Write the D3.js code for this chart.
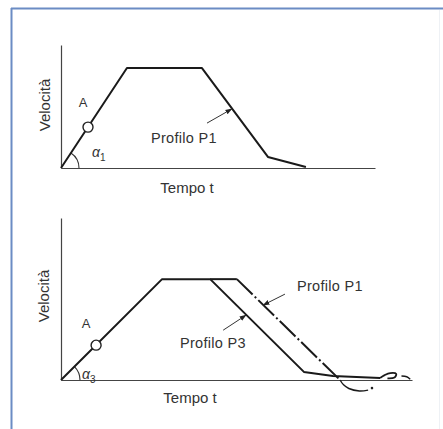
<!DOCTYPE html>
<html>
<head>
<meta charset="utf-8">
<script src="https://cdn.jsdelivr.net/npm/d3@7/dist/d3.min.js"></script>
<style>
  html, body { margin: 0; padding: 0; background: #fff; }
  svg { display: block; }
  text { font-family: "Liberation Sans", Arial, sans-serif; fill: #333; }
</style>
</head>
<body>
<svg id="chart" width="443" height="429"></svg>
<script>
// Velocity profiles (time units, velocity units)
const topProfileP1 = [[0, 0], [2.1, 3.25], [4.49, 3.25], [6.59, 0.36], [7.8, 0.03]];
const topPointA = [0.86, 1.33];
const topArrowP1 = [[4.65, 1.46], [5.44, 1.92]];

const botProfileP3 = [[0, 0], [2.88, 2.49], [4.25, 2.49], [6.92, 0.2], [7.75, 0.1], [9.09, 0.05]];
const botPlateauP1 = [[4.25, 2.49], [5.01, 2.49]];
const botDescentP1 = [[5.01, 2.49], [7.95, 0.0]];
const botTailHook = [[7.95, 0.0], [8.05, -0.12], [8.2, -0.21], [8.5, -0.27], [8.75, -0.25]];
const botTailLoop = [[9.09, 0.05], [9.22, 0.12], [9.38, 0.17], [9.55, 0.15], [9.5, 0.06], [9.3, 0.04]];
const botTailEnd = [[9.7, 0.1], [9.85, 0.08], [9.95, 0.02]];
const botTailDot = [8.86, -0.2];
const botPointA = [1.0, 0.86];
const botArrowP1 = [[6.38, 2.12], [5.76, 1.85]];
const botArrowP3 = [[4.62, 1.23], [5.27, 1.6]];

const axisLabelX = "Tempo t";
const axisLabelY = "Velocità";
const labelsTop = ["Profilo P1"];
const labelsBot = ["Profilo P1", "Profilo P3"];

const svg = d3.select("#chart");

// frame
svg.append("line").attr("x1", 11).attr("x2", 443).attr("y1", 8.5).attr("y2", 8.5)
  .attr("stroke", "#6b8cc4").attr("stroke-width", 2);
svg.append("line").attr("x1", 11.5).attr("x2", 11.5).attr("y1", 8).attr("y2", 429)
  .attr("stroke", "#6b8cc4").attr("stroke-width", 2);
svg.append("line").attr("x1", 439.5).attr("x2", 439.5).attr("y1", 10).attr("y2", 429)
  .attr("stroke", "#eef1f5").attr("stroke-width", 1);

// arrowhead marker
const defs = svg.append("defs");
defs.append("marker").attr("id", "head")
  .attr("viewBox", "0 0 10 10").attr("refX", 9).attr("refY", 5)
  .attr("markerWidth", 7).attr("markerHeight", 7).attr("orient", "auto")
  .append("path").attr("d", "M0,1.5 L10,5 L0,8.5 Z").attr("fill", "#222");

const line = (x, y, curve) => d3.line().x(d => x(d[0])).y(d => y(d[1])).curve(curve || d3.curveLinear);

function panel(opts) {
  const x = d3.scaleLinear().domain([0, 10]).range(opts.xr);
  const y = d3.scaleLinear().domain([0, 4]).range(opts.yr);
  const g = svg.append("g");

  // axes
  g.append("g").attr("transform", `translate(0,${y(0)})`)
    .call(d3.axisBottom(x).tickValues([]).tickSizeOuter(0))
    .call(a => a.select(".domain").attr("stroke", "#444").attr("stroke-width", 1.2));
  g.append("g").attr("transform", `translate(${x(0)},0)`)
    .call(d3.axisLeft(y).tickValues([]).tickSizeOuter(0))
    .call(a => a.select(".domain").attr("stroke", "#444").attr("stroke-width", 1.2));

  // axis titles
  g.append("text").attr("x", opts.titleX[0]).attr("y", opts.titleX[1])
    .attr("text-anchor", "middle").attr("font-size", 15).text(axisLabelX);
  g.append("text").attr("transform", `translate(${opts.titleY[0]},${opts.titleY[1]}) rotate(-90)`)
    .attr("text-anchor", "middle").attr("font-size", 15).text(axisLabelY);

  // angle at origin
  const a0 = Math.atan2(y(0) - y(opts.ramp[1]), x(opts.ramp[0]) - x(0));
  const r = opts.arcR;
  g.append("path")
    .attr("d", `M${x(0) + r},${y(0)} A${r},${r} 0 0 0 ${x(0) + r * Math.cos(a0)},${y(0) - r * Math.sin(a0)}`)
    .attr("fill", "none").attr("stroke", "#333").attr("stroke-width", 1.1);
  const al = g.append("text").attr("x", opts.alpha[0]).attr("y", opts.alpha[1])
    .attr("font-size", 14).attr("font-style", "italic");
  al.append("tspan").text("α");
  al.append("tspan").attr("font-size", 10).attr("font-style", "normal").attr("dy", 4).text(opts.sub);

  return { g, x, y };
}

function pointA(p, pt, lab) {
  p.g.append("circle").attr("cx", p.x(pt[0])).attr("cy", p.y(pt[1])).attr("r", 5)
    .attr("fill", "#fff").attr("stroke", "#222").attr("stroke-width", 1.4);
  p.g.append("text").attr("x", lab[0]).attr("y", lab[1]).attr("text-anchor", "middle")
    .attr("font-size", 13).text("A");
}

function arrow(p, pts) {
  p.g.append("path").attr("d", line(p.x, p.y)(pts))
    .attr("fill", "none").attr("stroke", "#333").attr("stroke-width", 1)
    .attr("marker-end", "url(#head)");
}

function label(p, txt, xy) {
  p.g.append("text").attr("x", xy[0]).attr("y", xy[1]).attr("font-size", 14.5)
    .attr("letter-spacing", 0.3).text(txt);
}

// --- upper diagram ---
const upper = panel({ xr: [61, 375], yr: [168, 45], titleX: [187, 193], titleY: [50, 105],
  ramp: topProfileP1[1], arcR: 18, alpha: [92, 157], sub: "1" });
upper.g.append("path").attr("d", line(upper.x, upper.y)(topProfileP1))
  .attr("fill", "none").attr("stroke", "#1a1a1a").attr("stroke-width", 2).attr("stroke-linejoin", "round");
pointA(upper, topPointA, [83, 107]);
arrow(upper, topArrowP1);
label(upper, labelsTop[0], [151, 143]);

// --- lower diagram ---
const lower = panel({ xr: [61, 412], yr: [380, 218], titleX: [190, 403], titleY: [49, 296],
  ramp: botProfileP3[1], arcR: 19, alpha: [82, 379], sub: "3" });
const sw = { fill: "none", stroke: "#1a1a1a", "stroke-width": 2, "stroke-linejoin": "round" };
function styled(sel, extra) {
  Object.entries(Object.assign({}, sw, extra || {})).forEach(([k, v]) => sel.attr(k, v));
  return sel;
}
styled(lower.g.append("path").attr("d", line(lower.x, lower.y)(botProfileP3)));
styled(lower.g.append("path").attr("d", line(lower.x, lower.y)(botPlateauP1)));
styled(lower.g.append("path").attr("d", line(lower.x, lower.y)(botDescentP1)),
  { "stroke-dasharray": "22,3,2,3" });
styled(lower.g.append("path").attr("d", line(lower.x, lower.y, d3.curveCatmullRom)(botTailHook)), { "stroke-width": 1.4 });
styled(lower.g.append("path").attr("d", line(lower.x, lower.y, d3.curveCatmullRom)(botTailLoop)), { "stroke-width": 1.8 });
styled(lower.g.append("path").attr("d", line(lower.x, lower.y, d3.curveCatmullRom)(botTailEnd)), { "stroke-width": 1.4 });
lower.g.append("circle").attr("cx", lower.x(botTailDot[0])).attr("cy", lower.y(botTailDot[1])).attr("r", 1.3).attr("fill", "#222");
pointA(lower, botPointA, [86, 328]);
arrow(lower, botArrowP1);
arrow(lower, botArrowP3);
label(lower, labelsBot[0], [297, 291]);
label(lower, labelsBot[1], [180, 348]);
</script>
</body>
</html>
